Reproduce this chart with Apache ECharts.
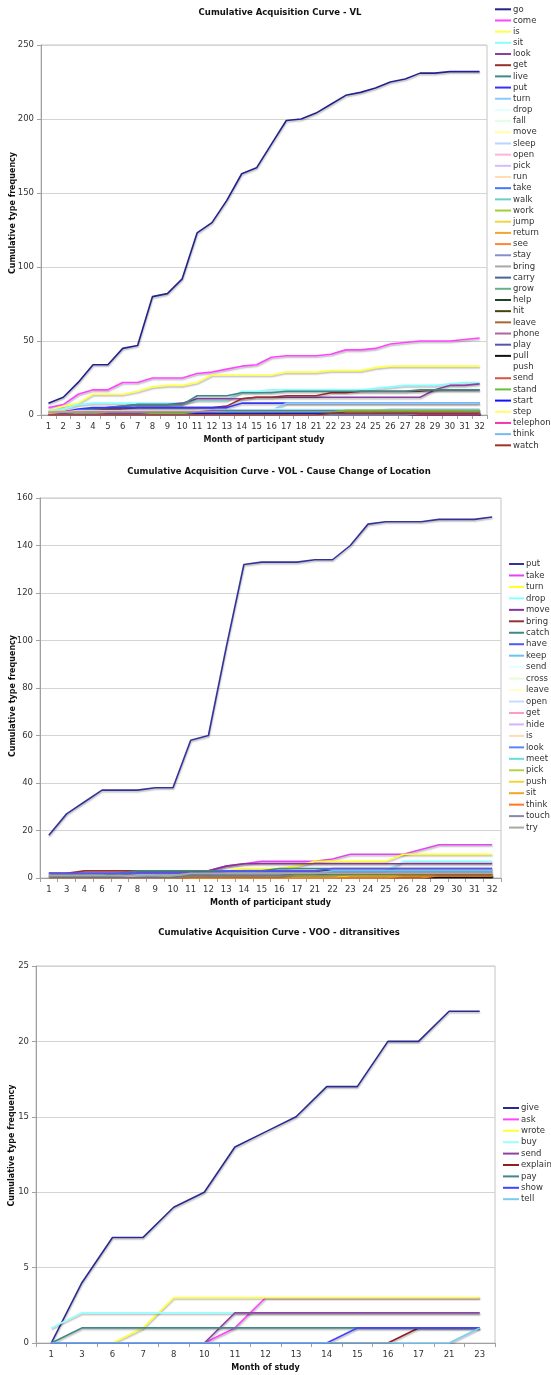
<!DOCTYPE html>
<html><head><meta charset="utf-8">
<script src="https://cdn.jsdelivr.net/npm/echarts@6.0.0/dist/echarts.min.js"></script>
<style>html,body{margin:0;padding:0;background:#fff;overflow:hidden}
.c{position:absolute;left:0;width:551px}</style></head>
<body>
<div id="c1" class="c" style="top:0;height:458px"></div>
<div id="c2" class="c" style="top:458px;height:462px"></div>
<div id="c3" class="c" style="top:920px;height:455px"></div>
<script>
// ---------- Chart 1: VL ----------
const vlMonths = ['1','2','3','4','5','6','7','8','9','10','11','12','13','14','15','16','17','18','21','22','23','24','25','26','27','28','29','30','31','32'];
const vlGo = [8,12,22,34,34,45,47,80,82,92,123,130,145,163,167,183,199,200,204,210,216,218,221,225,227,231,231,232,232,232];
const vlCome = [5,7,14,17,17,22,22,25,25,25,28,29,31,33,34,39,40,40,40,41,44,44,45,48,49,50,50,50,51,52];
const vlIs = [3,6,8,14,14,14,16,19,20,20,22,27,27,27,27,27,29,29,29,30,30,30,32,33,33,33,33,33,33,33];
const vlSit = [3,4,7,8,8,8,8,8,8,8,10,10,10,16,16,17,17,17,17,17,17,17,18,19,20,20,20,21,22,22];
const vlLook = [1,2,3,4,5,6,7,7,7,8,11,11,11,11,12,12,12,12,12,12,12,12,12,12,12,12,17,20,20,21];
const vlGet = [1,1,2,3,4,4,5,5,5,5,5,5,6,11,12,12,13,13,13,15,15,16,16,16,16,16,17,17,17,17];
const vlLive = [1,2,3,4,5,6,7,7,7,7,13,13,13,15,15,15,16,16,16,16,16,16,16,16,16,17,17,17,17,17];
const vlPut = [1,2,4,5,5,5,5,5,5,5,5,5,5,8,8,8,8,8,8,8,8,8,8,8,8,8,8,8,8,8];
const vlTurn = [1,1,2,2,2,3,3,3,3,3,3,3,3,3,3,3,8,8,8,8,8,8,8,8,8,8,8,8,8,8];
const vlDrop = [0,1,1,2,2,2,2,2,2,2,3,3,3,3,3,4,4,4,4,4,4,4,4,4,4,4,4,4,4,4];
const vlFall = [0,0,1,1,1,1,1,1,1,1,2,2,2,2,2,2,2,2,2,2,2,2,2,2,2,2,2,2,2,2];
const vlMove = [0,1,1,1,2,2,2,2,2,2,2,2,2,2,3,3,3,3,3,3,3,3,3,3,3,3,3,3,3,3];
const vlSleep = [2,2,3,3,3,3,3,3,3,3,3,3,3,3,3,3,3,3,3,3,3,3,3,4,4,4,4,4,4,4];
const vlOpen = [0,0,0,1,1,1,1,1,1,1,1,1,1,2,2,2,2,2,2,2,2,2,2,2,2,2,2,2,2,2];
const vlPick = [0,0,1,1,1,1,1,1,1,2,2,2,2,2,2,2,2,2,2,2,2,2,2,2,2,2,2,2,2,2];
const vlRun = [1,1,1,1,1,1,1,2,2,2,2,2,2,2,2,2,2,2,2,2,2,2,2,2,2,2,2,2,2,2];
const vlTake = [0,1,1,2,2,2,2,2,2,2,2,3,3,3,3,3,3,3,3,3,3,3,3,3,3,3,3,3,3,3];
const vlWalk = [0,0,1,1,1,1,1,1,1,1,1,1,1,2,2,2,2,2,2,2,2,2,2,2,2,2,2,2,2,2];
const vlWork = [0,0,0,0,0,0,0,1,1,1,1,1,1,1,1,2,2,2,2,2,3,3,3,3,3,3,3,3,3,3];
const vlJump = [0,0,0,0,1,1,1,1,1,1,1,1,1,1,1,1,1,1,1,1,1,1,1,1,1,1,1,1,1,1];
const vlReturn = [0,0,0,0,0,0,0,0,0,0,1,1,1,1,1,1,1,1,1,1,1,1,1,1,1,1,1,1,1,1];
const vlSee = [2,2,2,2,2,2,2,2,2,2,2,2,2,2,2,2,2,2,2,2,2,2,2,2,2,2,2,2,2,2];
const vlStay = [0,0,0,0,0,0,1,1,1,1,1,1,1,1,1,1,1,1,1,1,1,1,1,1,1,1,1,1,1,1];
const vlBring = [0,0,0,0,0,0,0,0,0,0,0,0,1,1,1,1,1,1,1,1,1,1,1,1,1,1,1,1,2,2];
const vlCarry = [0,0,0,0,0,0,0,0,0,0,0,0,0,0,1,1,1,1,1,1,1,1,1,1,1,1,1,1,1,1];
const vlGrow = [0,0,0,0,0,0,0,0,1,1,1,1,1,1,1,1,1,1,1,1,1,1,1,1,1,1,1,1,1,1];
const vlHelp = [0,0,0,0,0,0,0,0,0,0,0,0,0,0,0,0,0,0,1,1,1,1,1,1,1,1,1,1,1,1];
const vlHit = [0,0,0,0,0,0,0,0,0,0,0,0,0,0,0,0,1,1,1,1,1,1,1,1,1,1,1,1,1,1];
const vlLeave = [0,0,0,0,0,0,0,0,0,0,0,0,0,0,0,0,0,0,0,0,0,0,0,1,1,1,1,1,1,1];
const vlPhone = [0,0,0,0,0,0,0,0,0,0,0,1,1,1,1,1,1,1,1,1,1,1,1,1,1,1,1,1,1,1];
const vlPlay = [0,0,0,0,1,1,1,1,1,1,1,1,1,1,1,1,1,1,1,1,1,1,1,1,1,1,1,1,1,1];
const vlPull = [0,0,0,0,0,0,0,0,0,0,0,0,0,0,0,0,0,0,0,0,0,0,1,1,1,1,1,1,1,1];
const vlPush = [0,0,0,0,0,0,0,0,0,0,0,0,0,0,0,0,0,0,0,0,0,0,0,0,0,0,0,0,0,0];
const vlSend = [0,0,0,0,0,0,0,0,0,0,0,0,0,1,1,1,1,1,1,1,1,1,1,1,1,1,1,1,1,1];
const vlStand = [0,0,0,0,0,0,0,1,1,1,1,1,2,2,2,2,2,2,2,2,3,3,3,3,3,3,3,3,3,3];
const vlStart = [0,0,0,0,0,0,0,0,0,0,1,1,1,1,1,1,1,1,1,1,1,1,1,1,1,1,1,1,1,1];
const vlStep = [0,0,0,0,0,0,0,0,0,0,0,0,0,0,0,0,0,0,0,0,1,1,1,1,1,1,1,1,1,1];
const vlTelephone = [0,0,0,0,0,0,0,0,0,0,0,0,0,0,0,0,0,0,0,0,0,0,0,0,0,0,0,0,0,0];
const vlThink = [0,0,0,0,0,0,0,0,0,0,0,0,0,0,0,0,0,0,0,0,0,0,0,0,0,1,1,1,1,1];
const vlWatch = [0,0,0,0,0,0,0,0,0,0,0,0,0,0,0,0,0,0,0,1,1,1,1,1,1,1,1,1,1,1];
const vlNames = ['go','come','is','sit','look','get','live','put','turn','drop','fall','move','sleep','open','pick','run','take','walk','work','jump','return','see','stay','bring','carry','grow','help','hit','leave','phone','play','pull','push','send','stand','start','step','telephone','think','watch'];
const vlValues = [vlGo,vlCome,vlIs,vlSit,vlLook,vlGet,vlLive,vlPut,vlTurn,vlDrop,vlFall,vlMove,vlSleep,vlOpen,vlPick,vlRun,vlTake,vlWalk,vlWork,vlJump,vlReturn,vlSee,vlStay,vlBring,vlCarry,vlGrow,vlHelp,vlHit,vlLeave,vlPhone,vlPlay,vlPull,vlPush,vlSend,vlStand,vlStart,vlStep,vlTelephone,vlThink,vlWatch];
const vlColors = ['#22228c','#ff44ff','#ffff44','#88ffff','#8a40a0','#943030','#408888','#3333ff','#88ccff','#e0ffff','#e0ffe0','#ffffa8','#b8d4ff','#ffb4dc','#d4bcff','#ffdcb4','#4477ff','#66d0d0','#a8cc33','#f4d444','#f4a428','#ff8833','#8890c8','#a8a8a8','#446699','#66b088','#224422','#444411','#a86633','#b06699','#5555b0','#111111','#ffffff','#d45544','#66c033','#1111ff','#ffff66','#ff33a8','#77bbee','#a03322'];
const vlTicks = [0,50,100,150,200,250];

// ---------- Chart 2: VOL ----------
const colMonths = ['1','3','4','6','7','8','9','10','11','12','13','14','15','16','17','21','22','23','24','25','26','28','29','30','31','32'];
const colPut = [18,27,32,37,37,37,38,38,58,60,97,132,133,133,133,134,134,140,149,150,150,150,151,151,151,152];
const colTake = [1,1,1,1,1,2,2,2,2,3,5,6,7,7,7,7,8,10,10,10,10,12,14,14,14,14];
const colTurn = [0,0,0,0,0,0,1,1,1,2,3,4,4,4,5,7,7,7,7,7,10,10,10,10,10,10];
const colDrop = [1,1,1,1,1,1,1,1,2,2,2,2,2,3,3,3,3,3,3,3,7,7,7,7,7,7];
const colMove = [2,2,2,2,2,3,3,3,3,3,5,6,6,6,6,6,6,6,6,6,6,6,6,6,6,6];
const colBring = [2,2,3,3,3,3,3,3,3,3,3,3,3,3,3,3,3,3,3,3,3,3,3,3,3,3];
const colCatch = [1,1,1,1,2,3,3,3,3,3,3,3,3,4,4,4,4,4,4,4,4,4,4,4,4,4];
const colHave = [2,2,2,2,2,2,2,2,2,2,3,3,3,3,3,3,4,4,4,4,4,4,4,4,4,4];
const colKeep = [1,1,1,1,1,1,1,1,1,1,2,2,2,2,2,2,3,3,3,3,3,3,3,3,3,3];
const colSend = [0,0,0,0,0,0,0,0,1,1,1,1,1,1,1,1,1,1,1,1,1,1,1,1,1,1];
const colCross = [0,0,0,0,0,0,0,0,0,0,1,1,1,1,1,1,1,1,1,1,1,1,1,1,1,1];
const colLeave = [0,0,0,0,0,0,0,0,0,0,0,0,1,1,1,1,1,1,1,1,1,1,1,1,1,1];
const colOpen = [0,0,0,0,0,1,1,1,1,1,1,1,1,1,1,1,1,1,1,1,1,1,1,1,1,1];
const colGet = [0,0,0,0,0,0,0,0,0,1,1,1,1,1,1,1,1,1,1,2,2,2,2,2,2,2];
const colHide = [0,0,0,0,0,0,0,0,0,0,0,0,0,0,0,1,1,1,1,1,1,1,1,1,1,1];
const colIs = [0,0,0,0,0,0,0,0,0,0,1,1,1,1,1,1,1,1,1,1,1,1,1,1,1,1];
const colLook = [0,0,0,0,0,0,1,1,1,1,1,1,1,1,1,1,2,2,2,2,2,2,2,2,2,2];
const colMeet = [0,0,0,0,0,0,0,0,0,0,0,0,0,1,1,1,1,1,1,1,1,1,1,1,1,1];
const colPick = [0,0,0,0,0,0,0,1,1,1,1,1,1,1,1,1,1,1,1,1,1,1,1,1,1,1];
const colPush = [0,0,0,0,0,0,0,0,0,0,0,0,0,0,0,0,0,1,1,1,1,1,1,1,1,1];
const colSit = [0,0,0,0,0,0,0,0,0,0,0,0,0,0,0,0,0,0,0,0,1,1,1,1,1,1];
const colThink = [0,0,0,0,0,0,0,0,0,0,0,0,0,0,0,0,0,0,0,0,0,0,1,1,1,1];
const colTouch = [0,0,0,0,0,0,0,0,1,1,1,1,1,1,2,2,2,2,2,2,2,2,2,2,2,2];
const colTry = [1,1,1,1,1,1,1,1,2,2,2,2,2,2,2,2,2,2,2,2,2,2,2,2,2,2];
const colNames = ['put','take','turn','drop','move','bring','catch','have','keep','send','cross','leave','open','get','hide','is','look','meet','pick','push','sit','think','touch','try'];
const colValues = [colPut,colTake,colTurn,colDrop,colMove,colBring,colCatch,colHave,colKeep,colSend,colCross,colLeave,colOpen,colGet,colHide,colIs,colLook,colMeet,colPick,colPush,colSit,colThink,colTouch,colTry];
const colColors = ['#33339a','#e444f0','#ffff22','#88ffff','#883399','#943333','#408888','#5555ff','#66c4f4','#e4ffff','#e4ffd8','#ffffc8','#c4dcff','#ff99cc','#d4b4ff','#ffdcb4','#5588ff','#66dddd','#b4d444','#f4d433','#f4a428','#ff7722','#8888a8','#a8a8a8'];
const colTicks = [0,20,40,60,80,100,120,140,160];

// ---------- Chart 3: VOO ----------
const vooMonths = ['1','3','6','7','8','10','11','12','13','14','15','16','17','21','23'];
const vooGive = [0,4,7,7,9,10,13,14,15,17,17,20,20,22,22];
const vooAsk = [0,0,0,0,0,0,1,3,3,3,3,3,3,3,3];
const vooWrote = [0,0,0,1,3,3,3,3,3,3,3,3,3,3,3];
const vooBuy = [1,2,2,2,2,2,2,2,2,2,2,2,2,2,2];
const vooSend = [0,0,0,0,0,0,2,2,2,2,2,2,2,2,2];
const vooExplain = [0,0,0,0,0,0,0,0,0,0,0,0,1,1,1];
const vooPay = [0,1,1,1,1,1,1,1,1,1,1,1,1,1,1];
const vooShow = [0,0,0,0,0,0,0,0,0,0,1,1,1,1,1];
const vooTell = [0,0,0,0,0,0,0,0,0,0,0,0,0,0,1];
const vooNames = ['give','ask','wrote','buy','send','explain','pay','show','tell'];
const vooValues = [vooGive,vooAsk,vooWrote,vooBuy,vooSend,vooExplain,vooPay,vooShow,vooTell];
const vooColors = ['#2a2a90','#ff44ff','#ffff33','#99ffff','#9044a0','#902020','#408888','#4444ff','#77ccf4'];
const vooTicks = [0,5,10,15,20,25];

const FONT = '"DejaVu Sans", Verdana, sans-serif';

function build(cfg) {
  const tmax = cfg.ticks[cfg.ticks.length - 1];
  const step = cfg.ticks[1] - cfg.ticks[0];
  return {
    animation: false,
    backgroundColor: '#fff',
    title: {
      text: cfg.title, left: cfg.titleX, top: cfg.titleTop, textAlign: 'center', padding: 0,
      textStyle: {fontFamily: FONT, fontSize: 8.5, fontWeight: 'bold', color: '#111'}
    },
    legend: {
      orient: 'vertical', left: cfg.legLeft, top: cfg.legTop, padding: 0,
      icon: 'rect', itemWidth: cfg.legW, itemHeight: 2, itemGap: cfg.legGap,
      textStyle: {fontFamily: FONT, fontSize: 8.5, color: '#333', lineHeight: 10, padding: [0,0,0,-3]},
      data: cfg.names
    },
    grid: {left: cfg.grid[0], top: cfg.grid[1], right: cfg.grid[2], bottom: cfg.grid[3],
      show: true, borderColor: '#c4c4c4', borderWidth: 1, containLabel: false, outerBoundsMode: 'none'},
    xAxis: {
      type: 'category', data: cfg.cats, boundaryGap: true,
      name: cfg.xName, nameLocation: 'middle', nameGap: cfg.xNameGap,
      nameTextStyle: {fontFamily: FONT, fontSize: 8, fontWeight: 'bold', color: '#111'},
      axisLine: {lineStyle: {color: '#a0a0a0'}},
      axisTick: {show: true, length: 4, lineStyle: {color: '#a0a0a0'}},
      axisLabel: {fontFamily: FONT, fontSize: 8.5, color: '#333', margin: 7, interval: 0},
      splitLine: {show: false}
    },
    yAxis: {
      type: 'value', min: 0, max: tmax, interval: step,
      name: 'Cumulative type frequency', nameLocation: 'middle', nameGap: cfg.yNameGap, nameRotate: 90,
      nameMoveOverlap: false,
      nameTextStyle: {fontFamily: FONT, fontSize: 8, fontWeight: 'bold', color: '#111', padding: cfg.yNamePad},
      axisLine: {show: true, lineStyle: {color: '#a0a0a0'}},
      axisTick: {show: true, length: 4, lineStyle: {color: '#a0a0a0'}},
      axisLabel: {fontFamily: FONT, fontSize: 8.5, color: '#333', margin: 7},
      splitLine: {show: true, lineStyle: {color: '#d4d4d4', width: 1}}
    },
    series: cfg.names.map((n, i) => ({
      name: n, type: 'line', data: cfg.values[i], symbol: 'none', silent: true,
      color: cfg.colors[i],
      lineStyle: {width: 1.6, color: cfg.colors[i], shadowColor: 'rgba(0,0,0,0.28)', shadowBlur: 1.5, shadowOffsetY: 1.5, shadowOffsetX: 0.5}
    }))
  };
}

const c1 = echarts.init(document.getElementById('c1'));
c1.setOption(build({
  title: 'Cumulative Acquisition Curve - VL', titleX: 280, titleTop: 8,
  names: vlNames, values: vlValues, colors: vlColors, cats: vlMonths, ticks: vlTicks,
  legLeft: 495, legTop: 4.3, legW: 16, legGap: 1.18,
  grid: [41, 45, 64, 43], xName: 'Month of participant study', xNameGap: 18, yNameGap: 24, yNamePad: [0,0,0,34]
}));
const c2 = echarts.init(document.getElementById('c2'));
c2.setOption(build({
  title: 'Cumulative Acquisition Curve - VOL - Cause Change of Location', titleX: 279, titleTop: 9,
  names: colNames, values: colValues, colors: colColors, cats: colMonths, ticks: colTicks,
  legLeft: 509, legTop: 101, legW: 15, legGap: 1.46,
  grid: [40, 40, 50, 42], xName: 'Month of participant study', xNameGap: 20, yNameGap: 23, yNamePad: [0,16,0,0]
}));
const c3 = echarts.init(document.getElementById('c3'));
c3.setOption(build({
  title: 'Cumulative Acquisition Curve - VOO - ditransitives', titleX: 279, titleTop: 8.5,
  names: vooNames, values: vooValues, colors: vooColors, cats: vooMonths, ticks: vooTicks,
  legLeft: 503, legTop: 183, legW: 16, legGap: 1.4,
  grid: [36, 46, 56, 32], xName: 'Month of study', xNameGap: 21, yNameGap: 20, yNamePad: [0,0,0,18]
}));
</script>
</body></html>
